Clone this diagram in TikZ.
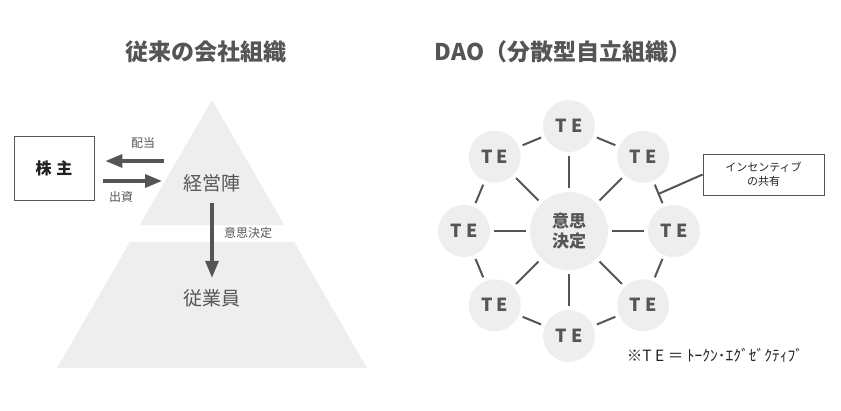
\documentclass[tikz,border=0pt]{standalone}
\usepackage{fontspec}
\setmainfont{Noto Sans CJK JP}
\usepackage{tikz}
\usetikzlibrary{arrows.meta, positioning, calc}
\definecolor{sumi}{HTML}{555555}
\definecolor{usuzumi}{HTML}{EEEEEE}
\definecolor{kuro}{HTML}{222222}

\begin{document}
\begin{tikzpicture}[x=1pt,y=-1pt,
        midashi/.style={font=\fontsize{23}{23}\selectfont\bfseries,text=sumi},
        kaisou/.style={font=\fontsize{19}{19}\selectfont,text=sumi,inner sep=0pt,text height=0.88em,text depth=0.12em},
        komoji/.style={font=\fontsize{12}{12}\selectfont,text=sumi},
        yajirushi/.style={-{Triangle[length=17pt,width=13pt]},line width=3.3pt,draw=sumi},
        maru/.style={circle,fill=usuzumi,minimum size=52pt,inner sep=0pt,font=\fontsize{18}{18}\selectfont\bfseries,text=sumi},
        sen/.style={line width=2pt,draw=sumi,shorten >=4pt,shorten <=4pt},
        hako/.style={draw=sumi,line width=0.8pt,align=center,text=kuro}
    ]
        \useasboundingbox (0,0) rectangle (841,410);

        % 従来の会社組織
        \node[midashi] (title-l) at (206,52) {従来の会社組織};
        \fill[usuzumi] (212,100) -- (284.3,225) -- (139.7,225) -- cycle;
        \fill[usuzumi] (129.9,242) -- (294.1,242) -- (367,368) -- (57,368) -- cycle;

        \node[hako,minimum width=80pt,minimum height=64pt,font=\fontsize{16}{16}\selectfont\bfseries] (kabu) at (54,168) {株\hspace{5pt}主};
        \node[kaisou] (keiei) at (212,187) {経営陣};
        \node[kaisou] (jugyo) at (212,302) {従業員};

        \coordinate (haito) at (164,161);
        \coordinate (shusshi) at (162,181);
        \draw[yajirushi,shorten >=11pt] (haito) -- (haito -| kabu.east);
        \draw[yajirushi,shorten <=9pt] (shusshi -| kabu.east) -- (shusshi);
        \node[komoji] (haito-l) at (143,143) {配当};
        \node[komoji] (shusshi-l) at (121,197) {出資};

        \draw[yajirushi,shorten <=11pt,shorten >=19pt] (keiei) -- (jugyo);
        \node[komoji] (kettei-l) at (248,233) {意思決定};

        % DAO
        \node[midashi] (title-r) at (563,52) {DAO（分散型自立組織）};
        \node[maru,minimum size=78pt,font=\fontsize{17}{20}\selectfont\bfseries,align=center] (ishi) at (569,231) {意思\\決定};
        \foreach \a [count=\i] in {-90,-45,0,45,90,135,180,225}
            \node[maru] (te\i) at ($(ishi)+(\a:105)$) {T E};
        \foreach \i [evaluate=\i as \j using {int(mod(\i,8)+1)}] in {1,...,8}
            \draw[sen] (te\i) -- (te\j);
        \foreach \i in {1,...,8}
            \draw[sen] (ishi) -- (te\i);

        \node[hako,minimum width=121pt,minimum height=41pt,font=\fontsize{11}{14}\selectfont] (insen) at (763.5,174.5) {インセンティブ\\の共有};
        \coordinate (kyoyu) at ($(te2)!0.5!(te3)$);
        \draw[line width=2pt,draw=sumi] (insen.west) -- (kyoyu);

        \node[font=\fontsize{15.5}{15.5}\selectfont,text=kuro] (chu) at (715,355) {※T E ＝ ﾄｰｸﾝ･ｴｸﾞｾﾞｸﾃｨﾌﾞ};
    \end{tikzpicture}
\end{document}
